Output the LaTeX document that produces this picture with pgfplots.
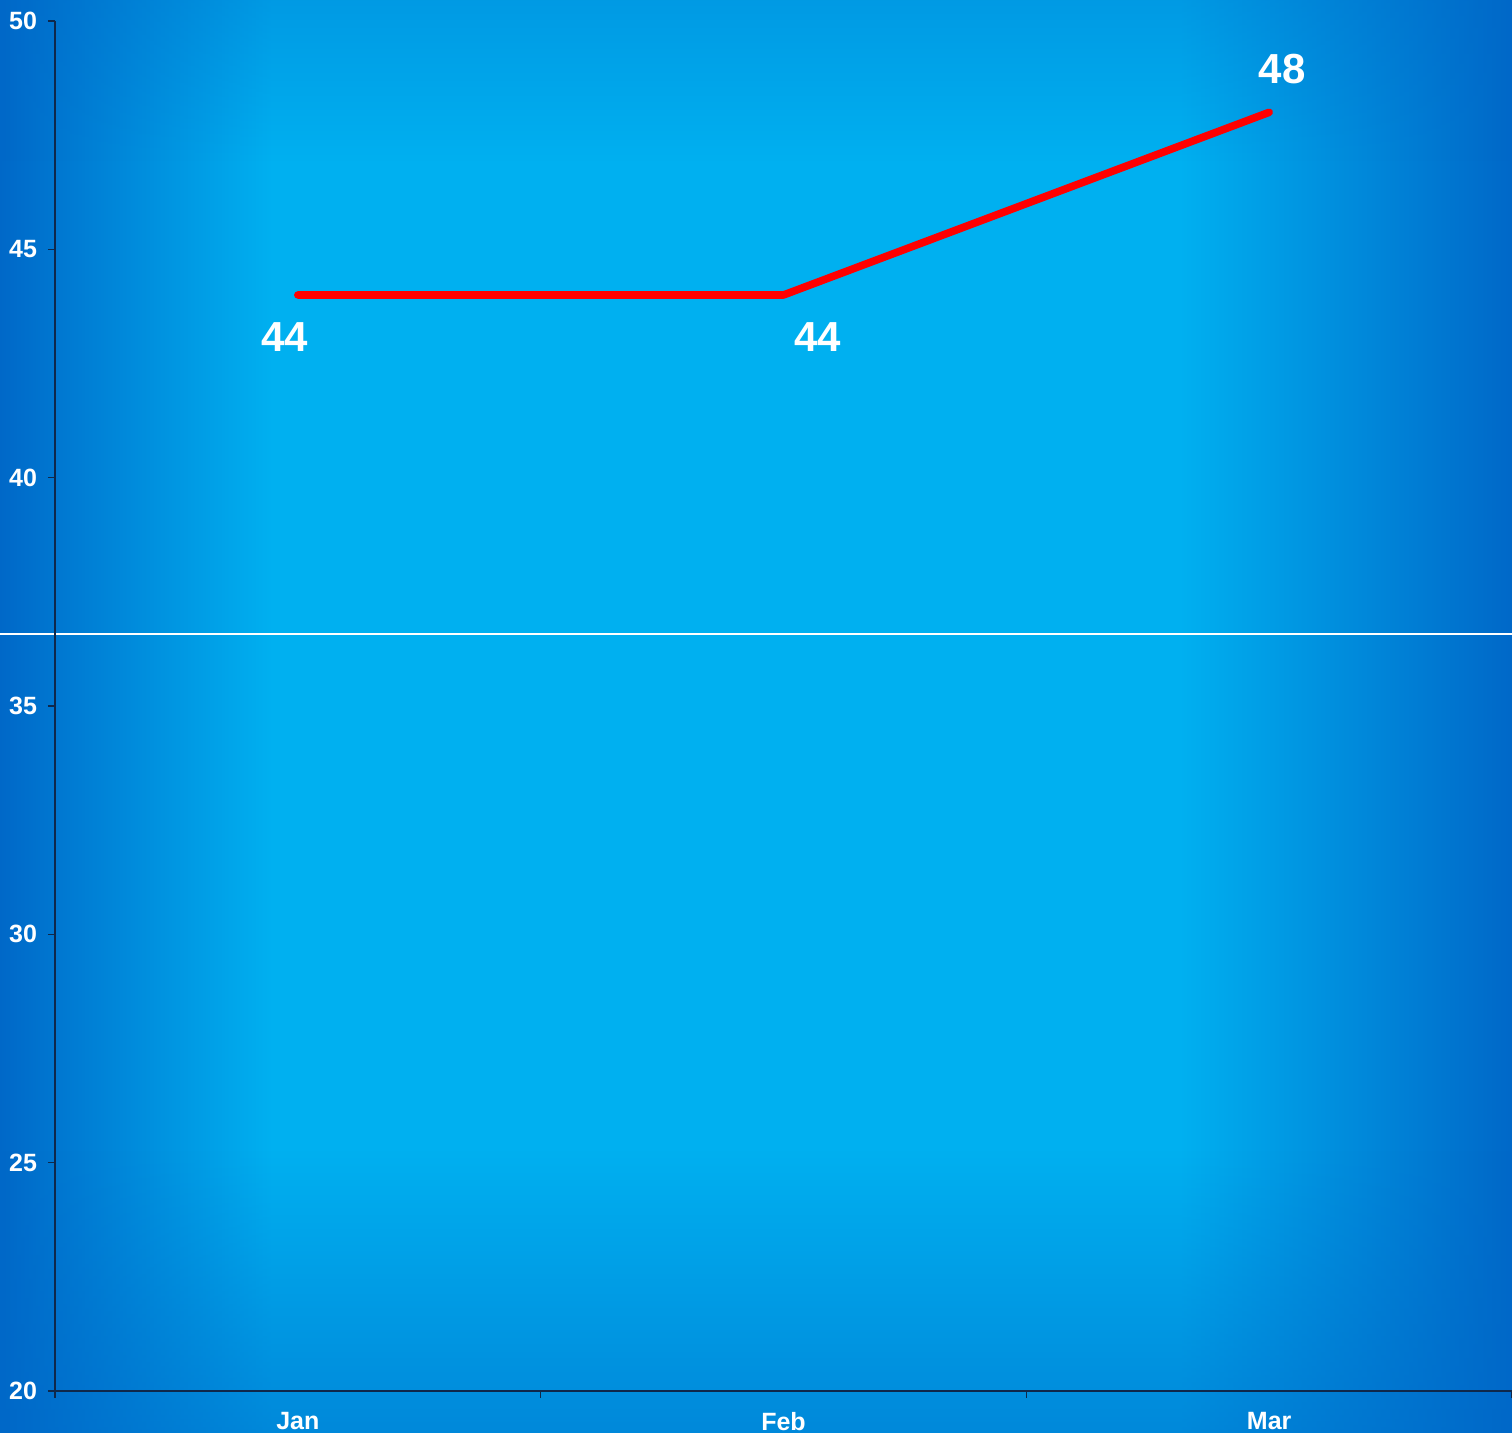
\documentclass[border=0pt]{standalone}
\usepackage{fontspec}
\setmainfont{Liberation Sans}
\usepackage{pgfplots}
\usepackage{pgfplotstable}
\pgfplotsset{compat=1.18}
\usetikzlibrary{fadings}
\definecolor{edgeblue}{RGB}{0,104,200}
\definecolor{lightblue}{RGB}{0,176,240}
\definecolor{axisnavy}{RGB}{15,40,75}
\pgfdeclarehorizontalshading{bgshade}{100bp}{color(0bp)=(edgeblue); color(25bp)=(edgeblue); color(34bp)=(lightblue); color(64bp)=(lightblue); color(75bp)=(edgeblue); color(100bp)=(edgeblue)}
\tikzfading[name=fadebottom, top color=transparent!100, bottom color=transparent!0]
\tikzfading[name=fadetop, top color=transparent!0, bottom color=transparent!100]

\pgfplotstableread{
x y dx dy
0 44 -6.5 -21
1 44 17 -21
2 48 6.5 21.5
}\datatable

\begin{document}
\begin{tikzpicture}
\shade[shading=bgshade] (-27.5pt,-21pt) rectangle (728.5pt,695.5pt);
\fill[edgeblue, opacity=0.55, path fading=fadebottom] (-27.5pt,-21pt) rectangle (728.5pt,120pt);
\fill[edgeblue, opacity=0.3, path fading=fadetop] (-27.5pt,615pt) rectangle (728.5pt,695.5pt);
\draw[white, line width=0.75pt] (-27.5pt,378.5pt) -- (728.5pt,378.5pt);
\begin{axis}[at={(0,0)}, anchor=south west, scale only axis,
  width=728.5pt, height=685pt,
  xmin=-0.5, xmax=2.5, ymin=20, ymax=50,
  axis lines=left, axis line style={-, axisnavy, line width=0.6pt},
  ytick={20,25,...,50},
  xtick={-0.5,0.5,1.5,2.5}, xticklabels={},
  extra x ticks={0,1,2}, extra x tick labels={Jan,Feb,Mar},
  extra x tick style={major tick length=0pt},
  tick align=outside, major tick length=3.5pt,
  tick style={axisnavy, line width=0.6pt},
  /pgf/number format/assume math mode=true,
  ticklabel style={font=\bfseries\fontsize{12.5}{14}\selectfont, text=white},
  yticklabel style={xshift=-2pt},
  xticklabel style={yshift=-7pt},
]
\addplot[red, line width=3.8pt, line cap=round, line join=round,
  nodes near coords, point meta=y,
  visualization depends on={\thisrow{dx}\as\dx},
  visualization depends on={\thisrow{dy}\as\dy},
  nodes near coords style={anchor=center, xshift=\dx pt, yshift=\dy pt,
    font=\bfseries\fontsize{21}{24}\selectfont, text=white}]
  table[x=x, y=y] {\datatable};
\end{axis}
\pgfresetboundingbox
\useasboundingbox (-27.5pt,-21pt) rectangle (728.5pt,695.5pt);
\end{tikzpicture}
\end{document}
